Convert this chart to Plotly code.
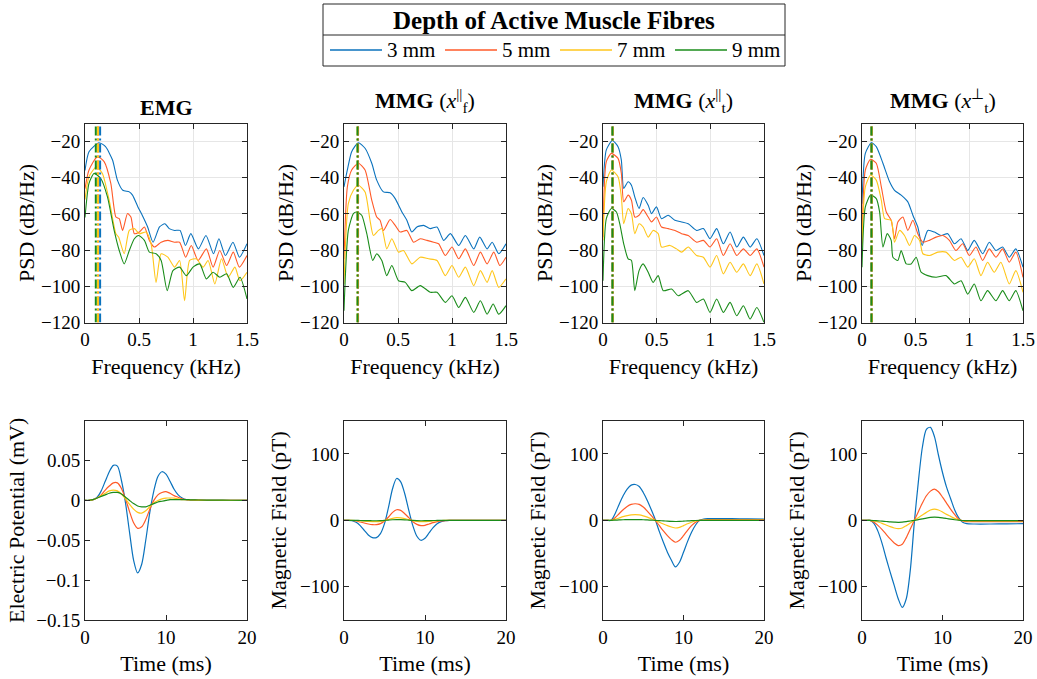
import plotly.graph_objects as go

FONT = "Liberation Serif"
AX = "#262626"
GRID = "#e6e6e6"
COLORS = ["#0A72BD", "#FF5A28", "#FFC61A", "#1A8C1A"]
DEPTHS = ["3 mm", "5 mm", "7 mm", "9 mm"]

# ---------------- PSD data (frequency in kHz, PSD in dB/Hz) ----------------
emg_f_3 = [0, 0.037, 0.13, 0.19, 0.255, 0.30, 0.35, 0.41, 0.44, 0.49, 0.53, 0.58, 0.63, 0.69, 0.74, 0.78, 0.83, 0.88, 0.93, 0.98, 1.05, 1.12, 1.19, 1.24, 1.30, 1.37, 1.43, 1.50]
emg_p_3 = [-36, -25.6, -20.6, -22.8, -30.2, -41.3, -46.9, -47.8, -49.6, -56.1, -60.7, -67.2, -75.6, -67.2, -65.4, -68.1, -69.1, -69.1, -77.4, -70.9, -79.3, -71.9, -82.0, -73.7, -83.0, -75.6, -83.9, -76.5]
emg_f_5 = [0, 0.037, 0.115, 0.177, 0.239, 0.286, 0.317, 0.348, 0.394, 0.425, 0.457, 0.503, 0.550, 0.596, 0.643, 0.705, 0.767, 0.829, 0.876, 0.932, 0.984, 1.047, 1.124, 1.186, 1.248, 1.311, 1.373, 1.429, 1.5]
emg_p_5 = [-46, -35.7, -28.3, -31.1, -43.1, -61.7, -62.6, -69.1, -59.8, -61.7, -70.9, -70.0, -67.2, -74.6, -78.3, -75.6, -74.6, -75.6, -75.6, -83.9, -77.4, -85.7, -79.3, -89.4, -80.2, -88.5, -81.1, -89.4, -83.0]
emg_f_7 = [0, 0.037, 0.106, 0.161, 0.224, 0.286, 0.311, 0.363, 0.410, 0.457, 0.503, 0.565, 0.612, 0.658, 0.705, 0.767, 0.829, 0.876, 0.922, 0.969, 1.031, 1.093, 1.140, 1.202, 1.264, 1.326, 1.388, 1.435, 1.5]
emg_p_7 = [-52, -39.4, -33.9, -37.6, -52.4, -70.9, -72.8, -82.0, -69.1, -68.1, -70.9, -70.0, -76.5, -97.8, -82.0, -83.9, -89.4, -85.7, -108.0, -85.7, -84.8, -89.4, -85.7, -98.7, -84.8, -95.0, -89.4, -96.9, -92.2]
emg_f_9 = [0, 0.037, 0.084, 0.146, 0.208, 0.270, 0.317, 0.363, 0.410, 0.457, 0.497, 0.550, 0.596, 0.658, 0.705, 0.761, 0.814, 0.876, 0.938, 1.0, 1.062, 1.124, 1.186, 1.248, 1.311, 1.373, 1.435, 1.5]
emg_p_9 = [-62, -43.1, -37.6, -40.4, -50.6, -69.1, -80.2, -87.6, -80.2, -73.7, -71.9, -74.6, -81.1, -82.0, -85.7, -102.4, -91.3, -89.4, -94.1, -89.4, -87.6, -95.9, -92.2, -95.0, -93.1, -100.6, -95.0, -107.0]

mf_f_3 = [0, 0.031, 0.071, 0.133, 0.195, 0.257, 0.303, 0.365, 0.427, 0.474, 0.536, 0.582, 0.628, 0.675, 0.737, 0.799, 0.861, 0.923, 0.985, 1.062, 1.124, 1.201, 1.257, 1.325, 1.372, 1.433, 1.5]
mf_p_3 = [-45, -35.7, -25.6, -20.6, -23.7, -32.0, -41.3, -47.8, -48.3, -51.5, -58.9, -63.5, -70.0, -67.2, -66.3, -68.1, -67.2, -74.6, -70.9, -77.4, -71.9, -79.3, -72.8, -79.3, -75.6, -82.0, -76.5]
mf_f_5 = [0, 0.031, 0.071, 0.133, 0.195, 0.257, 0.303, 0.334, 0.365, 0.427, 0.474, 0.520, 0.582, 0.644, 0.706, 0.768, 0.830, 0.876, 0.938, 1.0, 1.062, 1.124, 1.201, 1.263, 1.325, 1.387, 1.443, 1.5]
mf_p_5 = [-85, -45.0, -35.7, -32.0, -35.7, -52.4, -61.7, -63.5, -69.1, -63.1, -66.3, -70.0, -69.1, -75.6, -73.7, -74.6, -75.6, -76.5, -83.0, -78.3, -84.8, -79.3, -88.5, -81.1, -87.6, -81.1, -88.5, -83.9]
mf_f_7 = [0, 0.040, 0.087, 0.133, 0.195, 0.241, 0.272, 0.319, 0.350, 0.396, 0.443, 0.505, 0.551, 0.628, 0.706, 0.783, 0.861, 0.938, 1.0, 1.062, 1.124, 1.201, 1.263, 1.325, 1.372, 1.433, 1.5]
mf_p_7 = [-98.7, -54.3, -46.9, -44.1, -47.8, -63.5, -71.9, -69.1, -68.1, -79.3, -73.7, -81.1, -80.2, -87.6, -83.9, -84.8, -85.7, -94.1, -88.5, -95.0, -89.4, -99.6, -91.3, -97.8, -91.3, -100.6, -95.9]
mf_f_9 = [0, 0.040, 0.087, 0.118, 0.164, 0.211, 0.266, 0.303, 0.350, 0.396, 0.443, 0.505, 0.567, 0.628, 0.706, 0.799, 0.861, 0.938, 1.0, 1.062, 1.124, 1.201, 1.263, 1.325, 1.381, 1.433, 1.5]
mf_p_9 = [-113.5, -69.1, -59.8, -58.9, -60.7, -70.9, -85.7, -82.0, -85.7, -94.1, -88.5, -96.9, -97.8, -102.4, -99.6, -103.3, -103.3, -108.9, -105.2, -111.7, -106.1, -114.4, -108.0, -115.4, -109.8, -115.4, -110.7]

mtp_f_3 = [0, 0.031, 0.087, 0.140, 0.171, 0.193, 0.234, 0.265, 0.296, 0.336, 0.374, 0.421, 0.452, 0.498, 0.545, 0.607, 0.670, 0.732, 0.794, 0.872, 0.935, 0.997, 1.059, 1.121, 1.184, 1.246, 1.308, 1.371, 1.433, 1.5]
mtp_p_3 = [-45.0, -24.6, -19.4, -22.8, -30.2, -45.9, -42.2, -44.1, -50.6, -57.0, -50.9, -55.2, -59.8, -56.1, -62.6, -60.7, -63.5, -64.4, -65.4, -69.1, -68.1, -73.7, -68.1, -76.5, -70.0, -78.3, -72.8, -78.3, -73.7, -83.0]
mtp_f_5 = [0, 0.031, 0.078, 0.140, 0.171, 0.193, 0.234, 0.265, 0.296, 0.336, 0.374, 0.421, 0.452, 0.498, 0.545, 0.607, 0.670, 0.732, 0.794, 0.872, 0.935, 0.997, 1.059, 1.121, 1.184, 1.246, 1.308, 1.371, 1.433, 1.5]
mtp_p_5 = [-72.8, -31.1, -26.5, -29.3, -37.6, -53.3, -49.6, -52.4, -61.7, -60.7, -57.6, -61.7, -64.4, -61.7, -67.2, -68.1, -69.1, -70.9, -71.9, -75.6, -74.6, -78.3, -73.7, -83.0, -76.5, -83.0, -79.3, -83.0, -79.3, -89.4]
mtp_f_7 = [0, 0.031, 0.078, 0.140, 0.171, 0.193, 0.234, 0.265, 0.296, 0.336, 0.374, 0.421, 0.467, 0.514, 0.545, 0.623, 0.685, 0.732, 0.794, 0.872, 0.935, 0.997, 1.059, 1.121, 1.184, 1.246, 1.308, 1.371, 1.433, 1.5]
mtp_p_7 = [-74.6, -42.2, -35.7, -39.4, -50.6, -65.4, -57.0, -59.8, -70.9, -65.4, -67.2, -72.8, -69.1, -70.9, -78.3, -77.4, -79.3, -81.1, -78.3, -83.0, -83.9, -89.4, -83.0, -93.1, -86.7, -92.2, -87.6, -94.1, -87.6, -98.7]
mtp_f_9 = [0, 0.031, 0.078, 0.125, 0.156, 0.193, 0.234, 0.265, 0.296, 0.336, 0.374, 0.421, 0.467, 0.514, 0.561, 0.639, 0.701, 0.794, 0.872, 0.935, 0.997, 1.059, 1.121, 1.184, 1.246, 1.308, 1.371, 1.433, 1.5]
mtp_p_9 = [-96.9, -62.6, -57.0, -58.9, -65.4, -76.5, -84.8, -85.7, -102.4, -91.3, -87.6, -92.2, -97.8, -94.1, -102.4, -101.5, -105.2, -102.4, -108.9, -107.0, -114.4, -107.0, -114.4, -108.9, -116.3, -110.7, -118.1, -111.7, -120.0]

mtn_f_3 = [0, 0.031, 0.087, 0.133, 0.195, 0.257, 0.303, 0.365, 0.427, 0.474, 0.520, 0.560, 0.613, 0.675, 0.737, 0.799, 0.861, 0.923, 0.985, 1.046, 1.124, 1.186, 1.248, 1.310, 1.372, 1.433, 1.5]
mtn_p_3 = [-54.3, -26.5, -20.6, -22.8, -32.0, -42.2, -46.9, -49.6, -53.3, -60.7, -67.2, -77.4, -69.1, -70.0, -71.9, -70.9, -76.5, -73.7, -80.2, -74.6, -82.0, -75.6, -80.2, -78.3, -83.9, -79.3, -89.4]
mtn_f_5 = [0, 0.031, 0.080, 0.133, 0.180, 0.226, 0.272, 0.303, 0.334, 0.381, 0.427, 0.474, 0.520, 0.567, 0.628, 0.690, 0.752, 0.814, 0.876, 0.938, 1.0, 1.062, 1.124, 1.186, 1.248, 1.310, 1.372, 1.433, 1.5]
mtn_p_5 = [-76.5, -35.7, -29.8, -32.0, -45.0, -58.9, -63.5, -73.7, -64.4, -61.7, -69.1, -63.5, -70.9, -75.6, -74.6, -72.8, -71.9, -74.6, -80.2, -76.5, -83.0, -78.3, -85.7, -79.3, -83.9, -79.3, -86.7, -81.1, -95.0]
mtn_f_7 = [0, 0.031, 0.080, 0.133, 0.180, 0.211, 0.272, 0.303, 0.350, 0.396, 0.443, 0.489, 0.536, 0.567, 0.628, 0.706, 0.783, 0.861, 0.923, 0.985, 1.046, 1.108, 1.170, 1.232, 1.294, 1.372, 1.433, 1.5]
mtn_p_7 = [-78.3, -45.0, -38.5, -41.3, -52.4, -62.6, -63.5, -75.6, -69.1, -71.9, -77.4, -71.9, -74.6, -82.0, -83.0, -81.1, -81.1, -85.7, -83.9, -89.4, -84.8, -94.1, -86.7, -92.2, -86.7, -98.7, -91.3, -103.3]
mtn_f_9 = [0, 0.031, 0.080, 0.133, 0.164, 0.195, 0.235, 0.272, 0.288, 0.334, 0.365, 0.412, 0.458, 0.505, 0.551, 0.613, 0.690, 0.783, 0.861, 0.923, 0.985, 1.046, 1.108, 1.170, 1.248, 1.310, 1.372, 1.433, 1.5]
mtn_p_9 = [-89.4, -56.1, -49.6, -51.5, -58.9, -78.3, -70.9, -74.6, -83.9, -85.7, -80.2, -87.6, -87.6, -83.9, -92.2, -94.1, -95.0, -94.1, -98.7, -96.9, -104.3, -98.7, -108.0, -102.4, -108.0, -102.4, -108.0, -102.4, -113.5]

# peak frequencies (kHz), one per depth, per panel
peak_emg = [0.14, 0.12, 0.12, 0.10]
peak_mf = [0.13, 0.13, 0.125, 0.125]
peak_mtp = [0.09, 0.09, 0.09, 0.088]
peak_mtn = [0.09, 0.09, 0.09, 0.088]

# ---------------- time-domain data (ms) ----------------
time_ms = [0, 0.5, 1, 1.5, 2, 2.5, 3, 3.5, 4, 4.5, 5, 5.5, 6, 6.5, 7, 7.5, 8, 8.5, 9, 9.5,
           10, 10.5, 11, 11.5, 12, 12.5, 13, 14, 16, 18, 20]

emg_v_3 = [0, 0, 0.001, 0.004, 0.012, 0.024, 0.036, 0.044, 0.043, 0.025, -0.003, -0.040, -0.075, -0.091, -0.080, -0.050, -0.015, 0.012, 0.030, 0.036, 0.033, 0.024, 0.014, 0.007, 0.003, 0.001, 0.0005, 0.0003, 0.0002, 0.0001, 0]
emg_v_5 = [0, 0, 0.001, 0.003, 0.007, 0.013, 0.018, 0.022, 0.022, 0.015, 0.002, -0.014, -0.028, -0.035, -0.033, -0.024, -0.011, 0.000, 0.007, 0.010, 0.011, 0.009, 0.006, 0.004, 0.002, 0.001, 0.0005, 0.0003, 0.0002, 0.0001, 0]
emg_v_7 = [0, 0, 0.001, 0.003, 0.006, 0.009, 0.012, 0.013, 0.012, 0.008, 0.002, -0.005, -0.011, -0.015, -0.016, -0.013, -0.008, -0.003, 0.000, 0.002, 0.003, 0.003, 0.003, 0.002, 0.001, 0.001, 0.0005, 0.0003, 0.0002, 0.0001, 0]
emg_v_9 = [0, 0.0002, 0.001, 0.003, 0.005, 0.007, 0.009, 0.010, 0.010, 0.008, 0.004, 0.000, -0.004, -0.007, -0.008, -0.008, -0.006, -0.004, -0.002, -0.001, 0.000, 0.001, 0.001, 0.001, 0.001, 0.001, 0.0008, 0.0005, 0.0003, 0.0002, 0.0001]

mf_b_3 = [0, 0, -0.5, -3, -8, -15, -22, -26, -26, -20, -5, 20, 48, 63, 58, 40, 15, -8, -24, -30, -27, -19, -11, -5, -2, -0.5, 0, 0, 0, 0, 0]
mf_b_5 = [0, 0, -0.2, -1, -2.5, -4, -5.5, -6.5, -6.5, -5, -1, 5, 12, 16, 15, 10, 4, -2, -6, -8, -7.5, -5.5, -3.5, -2, -1, -0.3, 0, 0, 0, 0, 0]
mf_b_7 = [0, 0, 0, -0.3, -0.7, -1.2, -1.6, -1.9, -1.9, -1.5, -0.3, 1.3, 3, 4, 3.8, 2.6, 1, -0.5, -1.5, -2, -1.9, -1.4, -0.9, -0.5, -0.2, -0.1, 0, 0, 0, 0, 0]
mf_b_9 = [0, 0, 0, -0.1, -0.2, -0.35, -0.5, -0.6, -0.6, -0.45, -0.1, 0.4, 0.9, 1.2, 1.1, 0.8, 0.3, -0.15, -0.45, -0.6, -0.55, -0.4, -0.25, -0.15, -0.05, 0, 0, 0, 0, 0, 0]

mtp_b_3 = [0, 0, 0, 10, 24, 37, 47, 53, 54, 51, 42, 30, 16, 1, -17, -33, -48, -60, -70, -63, -48, -32, -18, -7, 0, 2, 2.5, 2.5, 2.5, 2.3, 2]
mtp_b_5 = [0, 0, 0, 4, 10, 16, 21, 24, 25, 24, 20, 14, 7, 0, -8, -16, -23, -29, -33, -30, -23, -15, -8, -3, 0, 0.5, 1, 1, 1, 1, 1]
mtp_b_7 = [0, 0, 0, 1.5, 3.5, 5.5, 7, 8.2, 8.5, 8.2, 6.8, 4.8, 2.4, 0, -2.8, -5.5, -8, -10, -11.5, -10.5, -8, -5.2, -2.8, -1, 0, 0.2, 0.3, 0.3, 0.3, 0.3, 0.3]
mtp_b_9 = [0, 0, 0, 0.3, 0.6, 0.9, 1.1, 1.2, 1.2, 1.1, 0.9, 0.6, 0.3, 0, -0.4, -0.8, -1.2, -1.5, -1.7, -1.6, -1.2, -0.8, -0.5, -0.2, 0, 0, 0, 0, 0, 0, 0]

mtn_b_3 = [0, 0, 0, -5, -17, -35, -57, -78, -98, -118, -131, -118, -75, -3, 58, 110, 137, 140, 126, 98, 72, 50, 33, 16, 4, -3, -5, -5.5, -5.5, -5.3, -5]
mtn_b_5 = [0, 0, 0, -3, -8, -14, -21, -28, -34, -38, -36, -26, -13, 0, 13, 26, 37, 44, 47, 43, 35, 26, 17, 9, 2, -1, -2, -2, -2, -2, -2]
mtn_b_7 = [0, 0, 0, -1, -2.5, -4.5, -7, -9.5, -11.5, -12.5, -11.5, -8, -4, 0, 4, 8, 12, 15.5, 17, 15.5, 12.5, 9, 6, 3, 0.8, -0.5, -0.8, -0.8, -0.8, -0.8, -0.8]
mtn_b_9 = [0, 0, 0, -0.3, -0.7, -1.2, -1.7, -2.3, -2.7, -3, -2.8, -2, -1, 0, 1, 2.2, 3.4, 4.4, 5, 4.6, 3.8, 2.8, 1.8, 0.9, 0.2, -0.2, -0.3, -0.3, -0.3, -0.3, -0.3]

# tick labels
psd_ticks = [-120, -100, -80, -60, -40, -20]
freq_ticks = [0, 0.5, 1, 1.5]
freq_ticktext = ["0", "0.5", "1", "1.5"]
time_ticks = [0, 10, 20]
emg_ticks = [-0.15, -0.1, -0.05, 0, 0.05]
emg_ticktext = ["\u22120.15", "\u22120.1", "\u22120.05", "0", "0.05"]
mmg_ticks = [-100, 0, 100]
mmg_ticktext = ["\u2212100", "0", "100"]

titles = ["<b>EMG</b>",
          "<b>MMG</b> (<i>x</i><sup>||</sup><sub>f</sub>)",
          "<b>MMG</b> (<i>x</i><sup>||</sup><sub>t</sub>)",
          "<b>MMG</b> (<i>x</i><sup>⊥</sup><sub>t</sub>)"]

psd_panels = [
    [(emg_f_3, emg_p_3), (emg_f_5, emg_p_5), (emg_f_7, emg_p_7), (emg_f_9, emg_p_9)],
    [(mf_f_3, mf_p_3), (mf_f_5, mf_p_5), (mf_f_7, mf_p_7), (mf_f_9, mf_p_9)],
    [(mtp_f_3, mtp_p_3), (mtp_f_5, mtp_p_5), (mtp_f_7, mtp_p_7), (mtp_f_9, mtp_p_9)],
    [(mtn_f_3, mtn_p_3), (mtn_f_5, mtn_p_5), (mtn_f_7, mtn_p_7), (mtn_f_9, mtn_p_9)],
]
peaks = [peak_emg, peak_mf, peak_mtp, peak_mtn]
time_panels = [
    [emg_v_3, emg_v_5, emg_v_7, emg_v_9],
    [mf_b_3, mf_b_5, mf_b_7, mf_b_9],
    [mtp_b_3, mtp_b_5, mtp_b_7, mtp_b_9],
    [mtn_b_3, mtn_b_5, mtn_b_7, mtn_b_9],
]

W, H = 1037, 679
X_DOM = [(85 / W, 247 / W), (344 / W, 506 / W), (603 / W, 764 / W), (862 / W, 1023 / W)]
Y_TOP = (1 - 322.5 / H, 1 - 123.5 / H)
Y_BOT = (1 - 620 / H, 1 - 420.7 / H)

fig = go.Figure()
tfont = dict(family=FONT, size=19, color="#000000")
lfont = dict(family=FONT, size=22, color="#000000")

for c in range(4):
    kt = c + 1
    kb = c + 5
    for s in range(4):
        f, p = psd_panels[c][s]
        fig.add_trace(go.Scatter(x=f, y=p, mode="lines", xaxis=f"x{kt}", yaxis=f"y{kt}",
                                 line=dict(color=COLORS[s], width=1.1, shape="spline", smoothing=0.6),
                                 showlegend=False, name=DEPTHS[s]))
    for s in range(4):
        fig.add_trace(go.Scatter(x=[peaks[c][s], peaks[c][s]], y=[-120, -10], mode="lines",
                                 xaxis=f"x{kt}", yaxis=f"y{kt}",
                                 line=dict(color=COLORS[s], width=2, dash="9px,3px,2px,3px"),
                                 showlegend=False, hoverinfo="skip"))
    for s in range(4):
        fig.add_trace(go.Scatter(x=time_ms, y=time_panels[c][s], mode="lines",
                                 xaxis=f"x{kb}", yaxis=f"y{kb}",
                                 line=dict(color=COLORS[s], width=1.2, shape="spline", smoothing=0.8),
                                 showlegend=False, name=DEPTHS[s]))

common = dict(showline=True, linecolor=AX, linewidth=1, mirror="ticks", ticks="inside",
              ticklen=5, tickcolor=AX, zeroline=False, tickfont=tfont, automargin=False)

layout = {}
for c in range(4):
    kt = c + 1
    kb = c + 5
    layout[f"xaxis{kt}"] = dict(common, domain=X_DOM[c], anchor=f"y{kt}", range=[0, 1.5],
                                tickvals=freq_ticks, ticktext=freq_ticktext,
                                showgrid=True, gridcolor=GRID, gridwidth=1,
                                title=dict(text="Frequency (kHz)", font=lfont, standoff=9))
    layout[f"yaxis{kt}"] = dict(common, domain=Y_TOP, anchor=f"x{kt}", range=[-120, -10],
                                tickvals=psd_ticks, showgrid=True, gridcolor=GRID, gridwidth=1,
                                title=dict(text="PSD (dB/Hz)", font=lfont, standoff=0))
    layout[f"xaxis{kb}"] = dict(common, domain=X_DOM[c], anchor=f"y{kb}", range=[0, 20],
                                tickvals=time_ticks, showgrid=False,
                                title=dict(text="Time (ms)", font=lfont, standoff=8))
    if c == 0:
        yb = dict(range=[-0.15, 0.1], tickvals=emg_ticks, ticktext=emg_ticktext,
                  title=dict(text="Electric Potential (mV)", font=lfont, standoff=5))
    else:
        yb = dict(range=[-150, 150], tickvals=mmg_ticks, ticktext=mmg_ticktext,
                  title=dict(text="Magnetic Field (pT)", font=lfont, standoff=7))
    layout[f"yaxis{kb}"] = dict(common, domain=Y_BOT, anchor=f"x{kb}", showgrid=False, **yb)

annotations = []
title_y = [107, 100, 100, 100]
for c in range(4):
    cx = (X_DOM[c][0] + X_DOM[c][1]) / 2
    annotations.append(dict(text=titles[c], x=cx, y=1 - title_y[c] / H, xref="paper", yref="paper",
                            xanchor="center", yanchor="middle", showarrow=False,
                            font=dict(family=FONT, size=22, color="#000000")))

# legend box (manual, two rows)
LX0, LX1 = 323 / W, 785 / W
LY0, LY1 = 1 - 66 / H, 1 - 4 / H
LSEP = 1 - 35 / H
shapes = [
    dict(type="rect", xref="paper", yref="paper", x0=LX0, x1=LX1, y0=LY0, y1=LY1,
         line=dict(color=AX, width=1), fillcolor="white", layer="above"),
    dict(type="line", xref="paper", yref="paper", x0=LX0, x1=LX1, y0=LSEP, y1=LSEP,
         line=dict(color=AX, width=1)),
]
annotations.append(dict(text="<b>Depth of Active Muscle Fibres</b>", x=(LX0 + LX1) / 2,
                        y=1 - 20 / H, xref="paper", yref="paper", xanchor="center",
                        yanchor="middle", showarrow=False,
                        font=dict(family=FONT, size=25, color="#000000")))
entry_x = [330, 445, 560, 675]
ly = 1 - 50 / H
for s in range(4):
    shapes.append(dict(type="line", xref="paper", yref="paper", x0=entry_x[s] / W,
                       x1=(entry_x[s] + 52) / W, y0=ly, y1=ly,
                       line=dict(color=COLORS[s], width=1.5)))
    annotations.append(dict(text=DEPTHS[s], x=(entry_x[s] + 55) / W, y=ly, xref="paper",
                            yref="paper", xanchor="left", yanchor="middle", showarrow=False,
                            font=dict(family=FONT, size=21, color="#000000")))

fig.update_layout(**layout)
fig.update_layout(width=W, height=H, margin=dict(l=0, r=0, t=0, b=0),
                  paper_bgcolor="white", plot_bgcolor="white",
                  font=dict(family=FONT, color="#000000"),
                  annotations=annotations, shapes=shapes, showlegend=False)

fig.write_html("out.html")
